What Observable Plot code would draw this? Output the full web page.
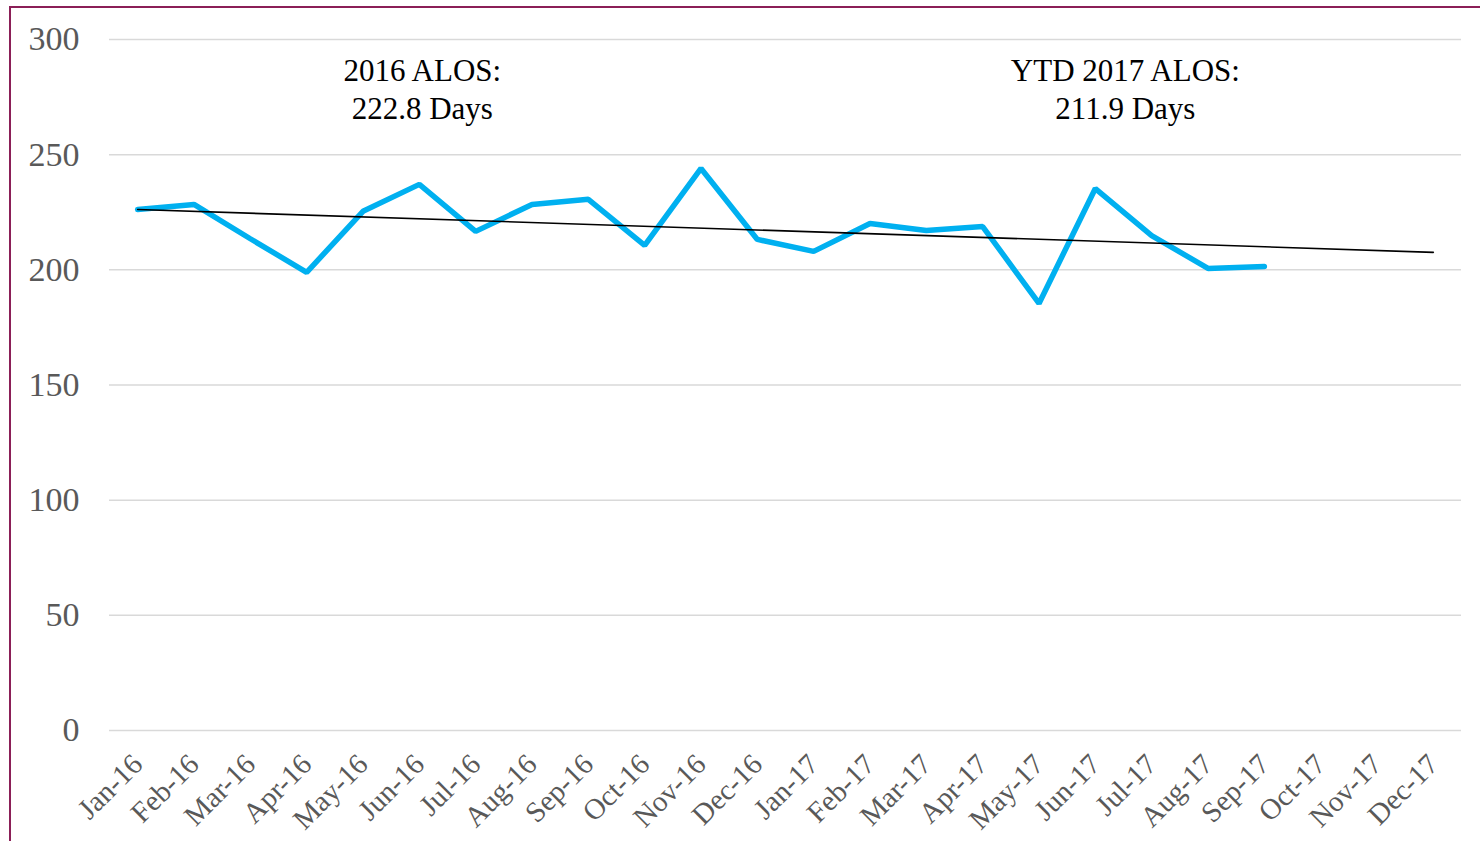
<!DOCTYPE html>
<html>
<head>
<meta charset="utf-8">
<script src="https://cdn.jsdelivr.net/npm/d3@7"></script>
<script src="https://cdn.jsdelivr.net/npm/@observablehq/plot@0.6"></script>
<style>
  html, body { margin: 0; padding: 0; background: #fff; }
  #wrap { position: relative; width: 1480px; height: 841px; overflow: hidden; }
  #frame { position: absolute; left: 9px; top: 6px; width: 1500px; height: 900px;
           border-left: 2px solid #8B1F57; border-top: 2px solid #8B1F57; }
  #chart { position: absolute; left: 0; top: 0; }
</style>
</head>
<body>
<div id="wrap"><div id="frame"></div><div id="chart"></div></div>
<script>
const months = ["Jan-16","Feb-16","Mar-16","Apr-16","May-16","Jun-16","Jul-16","Aug-16","Sep-16","Oct-16","Nov-16","Dec-16",
                "Jan-17","Feb-17","Mar-17","Apr-17","May-17","Jun-17","Jul-17","Aug-17","Sep-17","Oct-17","Nov-17","Dec-17"];
const alos = [226.2, 228.4, 213.5, 198.9, 225.4, 237.1, 216.7, 228.4, 230.6, 210.6, 244.0, 213.2,
              208.0, 220.1, 217.1, 218.8, 185.4, 235.3, 214.9, 200.6, 201.5];
const trendMonths = ["Jan-16", "Dec-17"];
const trendValues = [226.2, 207.6];
const yTicks = [0, 50, 100, 150, 200, 250, 300];
const note2016 = {m: "Jun-16", v: 279, label: "2016 ALOS:\n222.8 Days"};
const note2017 = {m: "Jun-17", v: 279, label: "YTD 2017 ALOS:\n211.9 Days"};

const series = alos.map((v, i) => ({m: months[i], v}));
const trend = trendMonths.map((m, i) => ({m, v: trendValues[i]}));

const font = "'Liberation Serif', 'DejaVu Serif', serif";

const chart = Plot.plot({
  width: 1480,
  height: 841,
  marginLeft: 109,
  marginRight: 19,
  marginTop: 39,
  marginBottom: 111,
  style: {fontFamily: font, background: "transparent", overflow: "visible"},
  x: {type: "point", domain: months, padding: 0.5, round: false},
  y: {domain: [0, 300]},
  marks: [
    Plot.gridY(yTicks, {stroke: "#d9d9d9", strokeOpacity: 1, strokeWidth: 1.5}),
    Plot.axisY(yTicks, {tickSize: 0, tickPadding: 30, fontSize: 34, fill: "#595959", label: null}),
    Plot.axisX({tickSize: 0, tickRotate: -45, tickPadding: 29, fontSize: 29, fill: "#595959", label: null}),
    Plot.line(series, {x: "m", y: "v", stroke: "#00B0F0", strokeWidth: 5.5, strokeLinejoin: "miter", strokeLinecap: "round"}),
    Plot.line(trend, {x: "m", y: "v", stroke: "#000", strokeWidth: 1.6}),
    Plot.text([note2016], {x: "m", y: "v", text: "label", dx: 3, fontSize: 31, fill: "#000", lineHeight: 1.23, textAnchor: "middle"}),
    Plot.text([note2017], {x: "m", y: "v", text: "label", dx: 30, fontSize: 31, fill: "#000", lineHeight: 1.23, textAnchor: "middle"})
  ]
});
document.getElementById("chart").appendChild(chart);
</script>
</body>
</html>
